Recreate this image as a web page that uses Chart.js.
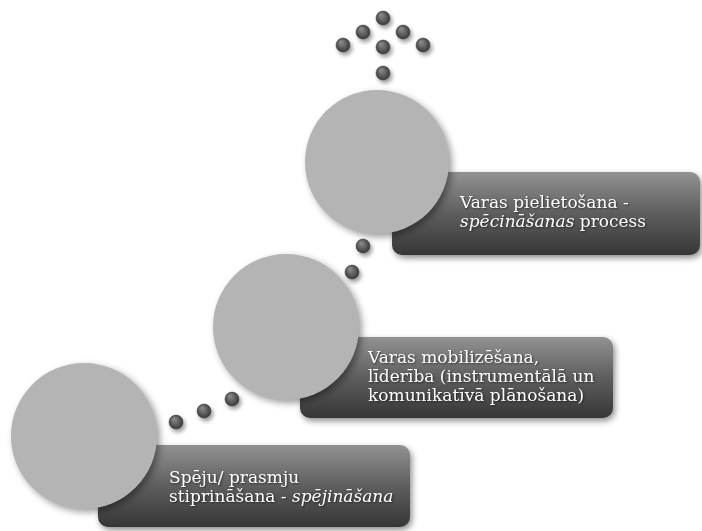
<!DOCTYPE html>
<html>
<head>
<meta charset="utf-8">
<script src="https://cdn.jsdelivr.net/npm/chart.js@4"></script>
<style>
    body { margin: 0; background: #ffffff; }
    #wrap { width: 702px; height: 531px; }
</style>
</head>
<body>
<div id="wrap"><canvas id="stageChart" width="702" height="531"></canvas></div>
<script>
// Stages: big circles (centre + radius in px)
const stageX = [84, 286, 377];
const stageY = [436, 327, 162];
const stageR = [73, 73, 72];

// Label boxes for each stage
const boxLeft = [98, 300, 392];
const boxRight = [410, 613, 700];
const boxTop = [445, 337, 172];
const boxBottom = [527, 418, 255];

// Stage labels (segments: text, italic)
const stageLabels = [
    [[['Spēju/ prasmju', false]], [['stiprināšana - ', false], ['spējināšana', true]]],
    [[['Varas mobilizēšana,', false]], [['līderība (instrumentālā un', false]], [['komunikatīvā plānošana)', false]]],
    [[['Varas pielietošana -', false]], [['spēcināšanas', true], [' process', false]]]
];
const labelX = [169, 368, 460];
const labelBaseline = [483, 363, 208];
const labelLineHeight = 19;

// Small connecting dots
const dotX = [176, 204, 232, 352, 363, 383, 343, 363, 383, 403, 423, 383];
const dotY = [422, 411, 399, 272, 246, 73, 45, 32, 18, 32, 45, 47];
const dotR = 7;

let stageChart;

document.addEventListener('DOMContentLoaded', function() {
    drawDiagram();
});

// Gradient fill for the small dots
function dotFill(context) {
    const chart = context.chart;
    if (!chart.chartArea || !context.raw) return '#555555';
    const x = chart.scales.x.getPixelForValue(context.raw.x);
    const y = chart.scales.y.getPixelForValue(context.raw.y);
    const g = chart.ctx.createRadialGradient(x - 2, y - 3, 1, x, y, dotR + 1);
    g.addColorStop(0, '#8a8a8a');
    g.addColorStop(0.6, '#555555');
    g.addColorStop(1, '#333333');
    return g;
}

// Plugin that draws the label boxes and text
const boxPlugin = {
    id: 'stageBoxes',
    beforeDatasetsDraw(chart) {
        const ctx = chart.ctx;
        const xs = chart.scales.x;
        const ys = chart.scales.y;
        for (let i = 0; i < boxLeft.length; i++) {
            const x0 = xs.getPixelForValue(boxLeft[i]);
            const x1 = xs.getPixelForValue(boxRight[i]);
            const y0 = ys.getPixelForValue(boxTop[i]);
            const y1 = ys.getPixelForValue(boxBottom[i]);
            const g = ctx.createLinearGradient(0, y0, 0, y1);
            g.addColorStop(0, '#929292');
            g.addColorStop(0.5, '#5e5e5e');
            g.addColorStop(1, '#363636');
            ctx.save();
            ctx.shadowColor = 'rgba(0,0,0,0.45)';
            ctx.shadowBlur = 6;
            ctx.shadowOffsetX = 2;
            ctx.shadowOffsetY = 3;
            ctx.fillStyle = g;
            ctx.beginPath();
            ctx.roundRect(x0, y0, x1 - x0, y1 - y0, 10);
            ctx.fill();
            ctx.restore();
        }
    },
    afterDatasetsDraw(chart) {
        const ctx = chart.ctx;
        const xs = chart.scales.x;
        const ys = chart.scales.y;
        ctx.save();
        ctx.fillStyle = '#ffffff';
        ctx.textBaseline = 'alphabetic';
        ctx.shadowColor = 'rgba(0,0,0,0.5)';
        ctx.shadowBlur = 2;
        ctx.shadowOffsetX = 1;
        ctx.shadowOffsetY = 1;
        stageLabels.forEach((lines, i) => {
            lines.forEach((segs, j) => {
                let x = xs.getPixelForValue(labelX[i]);
                const y = ys.getPixelForValue(labelBaseline[i]) + j * labelLineHeight;
                segs.forEach(seg => {
                    ctx.font = (seg[1] ? 'italic ' : '') + '17px "DejaVu Serif"';
                    ctx.fillText(seg[0], x, y);
                    x += ctx.measureText(seg[0]).width;
                });
            });
        });
        ctx.restore();
    },
    beforeDatasetDraw(chart, args) {
        const ctx = chart.ctx;
        ctx.save();
        ctx.shadowColor = 'rgba(0,0,0,0.4)';
        ctx.shadowBlur = args.index === 0 ? 7 : 4;
        ctx.shadowOffsetX = args.index === 0 ? 3 : 2;
        ctx.shadowOffsetY = 3;
    },
    afterDatasetDraw(chart) {
        chart.ctx.restore();
    }
};

function drawDiagram() {
    const ctx = document.getElementById('stageChart').getContext('2d');
    if (stageChart) {
        stageChart.destroy();
    }
    stageChart = new Chart(ctx, {
        type: 'bubble',
        data: {
            datasets: [{
                label: 'Stages',
                data: stageX.map((x, i) => ({ x: x, y: stageY[i], r: stageR[i] })),
                backgroundColor: '#b4b4b4',
                borderWidth: 0,
                clip: false,
                order: 2
            }, {
                label: 'Dots',
                data: dotX.map((x, i) => ({ x: x, y: dotY[i], r: dotR })),
                backgroundColor: dotFill,
                borderColor: '#3a3a3a',
                borderWidth: 0.5,
                clip: false,
                order: 1
            }]
        },
        options: {
            responsive: false,
            animation: false,
            layout: { padding: 0, autoPadding: false },
            scales: {
                x: { type: 'linear', min: 0, max: 702, display: false },
                y: { type: 'linear', min: 0, max: 531, reverse: true, display: false }
            },
            plugins: {
                legend: { display: false },
                tooltip: { enabled: false }
            }
        },
        plugins: [boxPlugin]
    });
}
</script>
</body>
</html>
